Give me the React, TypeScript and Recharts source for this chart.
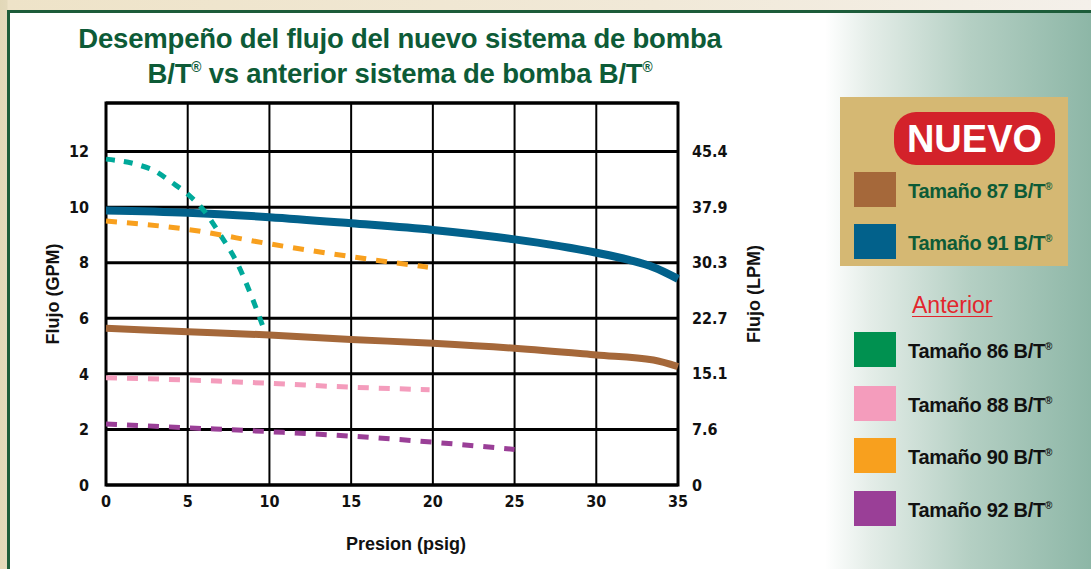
import { LineChart, Line, XAxis, YAxis, CartesianGrid, ReferenceArea, Label } from 'recharts'

// presion (psig) on x, flujo (GPM) on y
const xTicks = [0, 5, 10, 15, 20, 25, 30, 35]
const gpmTicks = [0, 2, 4, 6, 8, 10, 12]
const lpmLabels = ['0', '7.6', '15.1', '22.7', '30.3', '37.9', '45.4']
const yMax = 13.75

const psi87 = [0, 5, 10, 15, 20, 25, 30, 33.5, 35]
const gpm87 = [5.64, 5.52, 5.4, 5.24, 5.1, 4.92, 4.68, 4.5, 4.26]
const psi91 = [0, 5, 10, 15, 20, 25, 30, 32, 33.5, 35]
const gpm91 = [9.88, 9.8, 9.64, 9.42, 9.18, 8.84, 8.36, 8.1, 7.84, 7.42]
const psi86 = [0, 2, 3, 4, 5, 6, 7, 8, 9, 9.7]
const gpm86 = [11.73, 11.52, 11.3, 10.9, 10.47, 9.87, 9.0, 8.02, 6.65, 5.55]
const psi88 = [0, 5, 10, 15, 19.8]
const gpm88 = [3.86, 3.78, 3.66, 3.52, 3.43]
const psi90 = [0, 5, 10, 15, 19.7]
const gpm90 = [9.5, 9.2, 8.68, 8.22, 7.84]
const psi92 = [0, 5, 10, 15, 20, 25]
const gpm92 = [2.2, 2.06, 1.92, 1.76, 1.54, 1.28]

const nuevoLabels = ['Tamaño 87 B/T', 'Tamaño 91 B/T']
const nuevoColors = ['#A5683A', '#02618B']
const anteriorLabels = ['Tamaño 86 B/T', 'Tamaño 88 B/T', 'Tamaño 90 B/T', 'Tamaño 92 B/T']
const anteriorColors = ['#009150', '#F49CBC', '#F8A01E', '#9A3F97']

const toPoints = (xs: number[], ys: number[]) => xs.map((x, i) => ({ x, y: ys[i] }))

const SANS = '"Liberation Sans", Arial, sans-serif'
const NARROW = '"Liberation Sans Narrow", "DejaVu Sans Condensed", "Liberation Sans", sans-serif'
const tickStyle = { fill: '#111', fontSize: 16, fontFamily: NARROW, fontWeight: 700 }
const axisTitle = { fill: '#111', fontSize: 18, fontFamily: SANS, fontWeight: 700 }

// right axis shows the same gridlines converted to litres per minute
function LpmTick(p: any) {
  const i = gpmTicks.indexOf(Number(p.payload?.value))
  return (
    <text x={p.x} y={p.y} dy="0.35em" textAnchor="start" {...tickStyle}>
      {i >= 0 ? lpmLabels[i] : ''}
    </text>
  )
}

function FlowChart() {
  return (
    <LineChart
      width={800}
      height={569}
      margin={{ top: 103, right: 32, bottom: 14, left: 40 }}
      style={{ position: 'absolute', left: 0, top: 0 }}
    >
      <CartesianGrid
        yAxisId="left"
        horizontal={(p: any) => (
          <line key={`h-${p.index}`} x1={p.x1} y1={p.y1} x2={p.x2} y2={p.y2} stroke="#000" strokeWidth={3} />
        )}
        vertical={(p: any) => (
          <line key={`v-${p.index}`} x1={p.x1} y1={p.y1} x2={p.x2} y2={p.y2} stroke="#000" strokeWidth={2} />
        )}
      />
      <XAxis
        type="number"
        dataKey="x"
        domain={[0, 35]}
        ticks={xTicks}
        axisLine={false}
        tickLine={false}
        tickSize={0}
        tickMargin={11}
        height={70}
        tick={tickStyle}
        interval={0}
        allowDuplicatedCategory={false}
      >
        <Label value="Presion (psig)" position="insideBottom" offset={5} dx={14} style={axisTitle} />
      </XAxis>
      <YAxis
        yAxisId="left"
        type="number"
        domain={[0, yMax]}
        ticks={gpmTicks}
        axisLine={false}
        tickLine={false}
        tickSize={0}
        tickMargin={17}
        width={66}
        interval={0}
        tick={tickStyle}
      >
        <Label
          value="Flujo (GPM)"
          angle={-90}
          position="insideLeft"
          offset={13}
          style={{ ...axisTitle, textAnchor: 'middle' }}
        />
      </YAxis>
      <YAxis
        yAxisId="right"
        orientation="right"
        type="number"
        domain={[0, yMax]}
        ticks={gpmTicks}
        axisLine={false}
        tickLine={false}
        tickSize={0}
        tickMargin={14}
        width={90}
        interval={0}
        tick={LpmTick}
      >
        <Label
          value="Flujo (LPM)"
          angle={-90}
          position="insideRight"
          offset={14}
          style={{ ...axisTitle, textAnchor: 'middle' }}
        />
      </YAxis>
      <ReferenceArea
        yAxisId="left"
        x1={0}
        x2={35}
        y1={0}
        y2={yMax}
        fill="none"
        stroke="#000"
        strokeWidth={3}
        ifOverflow="visible"
      />
      <Line yAxisId="left" data={toPoints(psi87, gpm87)} dataKey="y" type="monotone" stroke="#A5683A" strokeWidth={7} dot={false} activeDot={false} isAnimationActive={false} />
      <Line yAxisId="left" data={toPoints(psi91, gpm91)} dataKey="y" type="monotone" stroke="#02618B" strokeWidth={8} dot={false} activeDot={false} isAnimationActive={false} />
      <Line yAxisId="left" data={toPoints(psi86, gpm86)} dataKey="y" type="monotone" stroke="#00A99A" strokeWidth={5} strokeDasharray="9 9" dot={false} activeDot={false} isAnimationActive={false} />
      <Line yAxisId="left" data={toPoints(psi90, gpm90)} dataKey="y" type="monotone" stroke="#F8A01E" strokeWidth={5} strokeDasharray="11 10" dot={false} activeDot={false} isAnimationActive={false} />
      {/* both y axes share the same domain, so this series can live on the right one */}
      <Line yAxisId="right" data={toPoints(psi88, gpm88)} dataKey="y" type="monotone" stroke="#F49CBC" strokeWidth={5} strokeDasharray="11 10" dot={false} activeDot={false} isAnimationActive={false} />
      <Line yAxisId="left" data={toPoints(psi92, gpm92)} dataKey="y" type="monotone" stroke="#9A3F97" strokeWidth={5} strokeDasharray="11 10" dot={false} activeDot={false} isAnimationActive={false} />
    </LineChart>
  )
}

const Reg = () => <sup style={{ fontSize: '0.5em', verticalAlign: '0.8em', lineHeight: 0 }}>®</sup>

function LegendRow({ top, color, label, textColor }: { top: number; color: string; label: string; textColor: string }) {
  return (
    <div style={{ position: 'absolute', left: 854, top, height: 35, display: 'flex', alignItems: 'center' }}>
      <div style={{ width: 42, height: 35, background: color }} />
      <span
        style={{
          marginLeft: 12,
          marginTop: 3,
          fontFamily: SANS,
          fontWeight: 700,
          fontSize: 20,
          color: textColor,
          whiteSpace: 'nowrap',
          letterSpacing: -0.3,
        }}
      >
        {label}
        <Reg />
      </span>
    </div>
  )
}

export default function App() {
  const nuevoTops = [172, 224]
  const anteriorTops = [332, 386, 438, 491]
  return (
    <div
      style={{
        position: 'absolute',
        left: 0,
        top: 0,
        width: 1091,
        height: 569,
        overflow: 'hidden',
        background: 'linear-gradient(to right, #E2D8B8 0px, #E4DABC 7px, #EEE3C8 8px, #F1E9D8 60%, #F4F0EA 100%)',
      }}
    >
      <div
        style={{
          position: 'absolute',
          left: 7,
          top: 10,
          width: 1100,
          height: 570,
          borderLeft: '3px solid #1D5C3A',
          borderTop: '3px solid #1D5C3A',
          background: 'linear-gradient(to right, #FFFFFF 0px, #FFFFFF 815px, #E4EDE8 860px, #B4CFC3 960px, #8CB6A6 1084px)',
        }}
      />
      <div
        style={{
          position: 'absolute',
          left: 0,
          top: 21,
          width: 800,
          textAlign: 'center',
          fontFamily: SANS,
          fontWeight: 700,
          fontSize: 27.5,
          lineHeight: '35px',
          color: '#0D5B37',
          letterSpacing: -0.2,
        }}
      >
        <div>Desempeño del flujo del nuevo sistema de bomba</div>
        <div>
          B/T<Reg /> vs anterior sistema de bomba B/T<Reg />
        </div>
      </div>
      <FlowChart />
      <div style={{ position: 'absolute', left: 840, top: 97, width: 228, height: 169, background: '#D5B873' }} />
      <div
        style={{
          position: 'absolute',
          left: 894,
          top: 112,
          width: 161,
          height: 53,
          borderRadius: 22,
          background: '#D3222A',
          color: '#fff',
          display: 'flex',
          alignItems: 'center',
          justifyContent: 'center',
          fontFamily: SANS,
          fontWeight: 700,
          fontSize: 38,
          paddingTop: 2,
          boxSizing: 'border-box',
        }}
      >
        NUEVO
      </div>
      {nuevoLabels.map((label, i) => (
        <LegendRow key={label} top={nuevoTops[i]} color={nuevoColors[i]} label={label} textColor="#0D5B37" />
      ))}
      <div
        style={{
          position: 'absolute',
          left: 912,
          top: 291,
          fontFamily: SANS,
          fontSize: 23,
          lineHeight: '28px',
          color: '#E2262D',
          textDecoration: 'underline',
          textDecorationThickness: 1,
          textUnderlineOffset: 3,
        }}
      >
        Anterior
      </div>
      {anteriorLabels.map((label, i) => (
        <LegendRow key={label} top={anteriorTops[i]} color={anteriorColors[i]} label={label} textColor="#111" />
      ))}
    </div>
  )
}
